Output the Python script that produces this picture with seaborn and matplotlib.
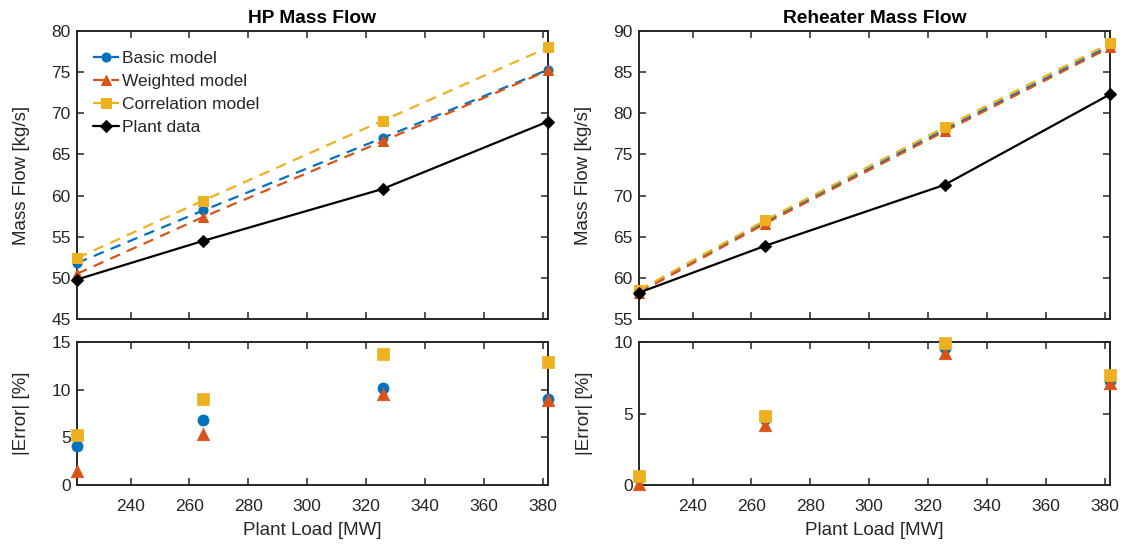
import numpy as np
import pandas as pd
import matplotlib
matplotlib.use("Agg")
import matplotlib.pyplot as plt
import seaborn as sns

# ---------------- data ----------------
load_mw = [221.8, 264.7, 325.6, 381.8]

series_names = ["Basic model", "Weighted model", "Correlation model", "Plant data"]

hp_basic = [51.8, 58.2, 67.0, 75.3]
hp_weighted = [50.5, 57.4, 66.6, 75.2]
hp_corr = [52.4, 59.4, 69.1, 78.0]
hp_plant = [49.8, 54.5, 60.8, 69.0]

hp_err_basic = [4.1, 6.8, 10.2, 9.0]
hp_err_weighted = [1.5, 5.3, 9.5, 8.9]
hp_err_corr = [5.2, 9.0, 13.7, 12.9]

rh_basic = [58.4, 66.8, 78.0, 88.2]
rh_weighted = [58.2, 66.6, 77.8, 88.0]
rh_corr = [58.5, 67.0, 78.3, 88.5]
rh_plant = [58.2, 63.9, 71.3, 82.3]

rh_err_basic = [0.5, 4.6, 9.6, 7.3]
rh_err_weighted = [0.1, 4.2, 9.2, 7.1]
rh_err_corr = [0.6, 4.8, 9.9, 7.7]

titles = ["HP Mass Flow", "Reheater Mass Flow"]
x_ticks = [240, 260, 280, 300, 320, 340, 360, 380]
hp_yticks = [45, 50, 55, 60, 65, 70, 75, 80]
rh_yticks = [55, 60, 65, 70, 75, 80, 85, 90]
hp_err_yticks = [0, 5, 10, 15]
rh_err_yticks = [0, 5, 10]

# ---------------- style ----------------
sns.set_theme(style="white")
plt.rcParams["font.family"] = ["Liberation Sans", "DejaVu Sans"]
plt.rcParams["font.size"] = 12.5

colors = ["#0072BD", "#D95319", "#EDB120", "#000000"]
markers = ["o", "^", "s", "D"]
dash = (0, (4.8, 3.4))
styles = [dash, dash, dash, "-"]
msizes = [6.5, 7.5, 6.5, 6]
axis_col = "#262626"

fig = plt.figure(figsize=(11.29, 5.44), dpi=100)

W, H = 1129, 544
def pos(x0, x1, y0, y1):
    return [x0 / W, 1 - y1 / H, (x1 - x0) / W, (y1 - y0) / H]

ax_pos = {
    "hp_top": pos(77, 548, 31, 319),
    "hp_bot": pos(77, 548, 342, 485),
    "rh_top": pos(639, 1110, 31, 319),
    "rh_bot": pos(639, 1110, 342, 485),
}

def style_ax(ax):
    for s in ax.spines.values():
        s.set_color(axis_col)
        s.set_linewidth(1.4)
        s.set_visible(True)
    ax.tick_params(direction="in", length=5, width=1.1, color=axis_col,
                   labelcolor=axis_col, labelsize=12.5,
                   top=True, right=True, bottom=True, left=True)
    ax.tick_params(axis="x", pad=10)
    ax.tick_params(axis="y", pad=4.5)
    ax.set_facecolor("white")
    ax.grid(False)

panels = [
    ("hp", [hp_basic, hp_weighted, hp_corr, hp_plant],
     [hp_err_basic, hp_err_weighted, hp_err_corr], hp_yticks, hp_err_yticks),
    ("rh", [rh_basic, rh_weighted, rh_corr, rh_plant],
     [rh_err_basic, rh_err_weighted, rh_err_corr], rh_yticks, rh_err_yticks),
]

for i, (key, flows, errs, yt, eyt) in enumerate(panels):
    ax = fig.add_axes(ax_pos[key + "_top"])
    for j, (name, vals) in enumerate(zip(series_names, flows)):
        df = pd.DataFrame({"load": load_mw, "flow": vals})
        sns.lineplot(data=df, x="load", y="flow", ax=ax, color=colors[j],
                     linestyle=styles[j], marker=markers[j], markersize=msizes[j],
                     markeredgecolor=colors[j], linewidth=1.6, label=name,
                     legend=(i == 0), clip_on=False, zorder=3)
    ax.set_xlim(load_mw[0], load_mw[-1])
    ax.set_ylim(yt[0], yt[-1])
    ax.set_xticks(x_ticks)
    ax.set_xticklabels([])
    ax.set_yticks(yt)
    ax.set_xlabel("")
    ax.set_ylabel("Mass Flow [kg/s]", fontsize=13.5, color=axis_col, labelpad=15)
    ax.set_title(titles[i], fontsize=13.8, fontweight="bold", color="black", pad=6)
    style_ax(ax)
    if i == 0:
        ax.legend(loc="upper left", frameon=False, fontsize=12.5,
                  handlelength=1.5, handletextpad=0.2, labelspacing=0.45,
                  borderpad=0, borderaxespad=0,
                  bbox_to_anchor=(15.7 / 471, 1 - 20.0 / 288))
    else:
        if ax.get_legend():
            ax.get_legend().remove()

    axb = fig.add_axes(ax_pos[key + "_bot"])
    for j, vals in enumerate(errs):
        df = pd.DataFrame({"load": load_mw, "err": vals})
        sns.scatterplot(data=df, x="load", y="err", ax=axb, color=colors[j],
                        marker=markers[j], s=(msizes[j] + 1.5) ** 2,
                        edgecolor=colors[j], linewidth=0.5, clip_on=False,
                        legend=False, zorder=3)
    axb.set_xlim(load_mw[0], load_mw[-1])
    axb.set_ylim(eyt[0], eyt[-1])
    axb.set_xticks(x_ticks)
    axb.set_yticks(eyt)
    axb.set_xlabel("Plant Load [MW]", fontsize=13.5, color=axis_col, labelpad=6)
    axb.set_ylabel("|Error| [%]", fontsize=13.5, color=axis_col, labelpad=15)
    style_ax(axb)

fig.savefig("out.png", dpi=100, facecolor="white")
